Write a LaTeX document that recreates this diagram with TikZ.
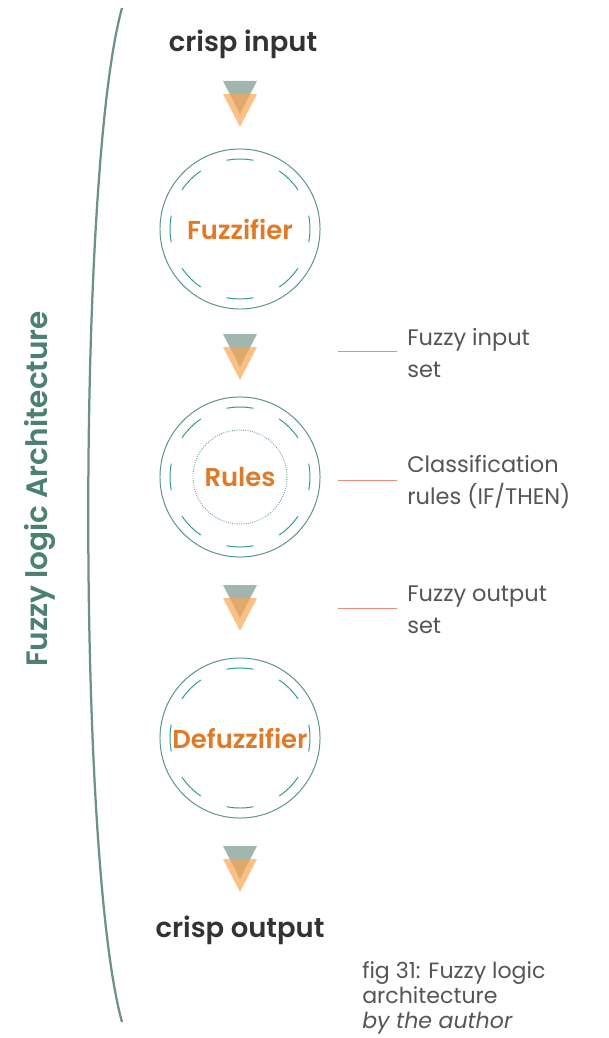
\documentclass[tikz,border=0pt]{standalone}
\usepackage{fontspec}
\setmainfont{Poppins}[BoldFont={Poppins SemiBold}]
\usetikzlibrary{positioning}

\definecolor{ringteal}{HTML}{5A948C}
\definecolor{dashteal}{HTML}{2E9A94}
\definecolor{bracketgreen}{HTML}{6B9188}
\definecolor{titlegreen}{HTML}{4C8070}
\definecolor{fuzzorange}{HTML}{E07A27}
\definecolor{leadred}{HTML}{EC8A7D}
\definecolor{notegray}{HTML}{555555}
\definecolor{trigray}{HTML}{A2B5AE}
\definecolor{triorange}{HTML}{FAA552}

\begin{document}
\begin{tikzpicture}[x=0.025cm,y=0.025cm]
\tikzstyle{stage}=[circle, draw=ringteal, line width=0.7pt, minimum size=4cm, inner sep=0pt, text=fuzzorange, font=\bfseries\fontsize{18.4}{20}\selectfont]
\tikzstyle{ringdash}=[draw=dashteal, line width=0.7pt]
\tikzstyle{core}=[circle, draw=ringteal, densely dotted, line width=0.6pt, minimum size=2.35cm, inner sep=0pt]
\tikzstyle{endtext}=[text=black!80, font=\bfseries\fontsize{19.5}{22}\selectfont]
\tikzstyle{note}=[anchor=west, inner sep=0pt, align=left, text=notegray, font=\fontsize{16}{22.5}\selectfont]
\tikzstyle{leader}=[draw=leadred, line width=0.7pt]
\tikzstyle{graytri}=[fill=trigray]
\tikzstyle{orangetri}=[fill=triorange, fill opacity=0.7]
\tikzstyle{bracket}=[draw=bracketgreen, line width=1.6pt]
\tikzstyle{sidetitle}=[rotate=90, text=titlegreen, font=\bfseries\fontsize{21}{24}\selectfont]
\tikzstyle{caption}=[anchor=north west, inner sep=0pt, align=left, text=notegray, font=\fontsize{15.7}{17.8}\selectfont]

\useasboundingbox (0,0) rectangle (608,-1038);

% bracket and side title
\draw[bracket] (122,-8) .. controls (77,-170) and (77,-860) .. (122,-1022);
\node (title) [sidetitle] at (40,-489) {Fuzzy logic Architecture};

% the stages
\node (cin) [endtext] at (243,-44) {crisp input};
\node (rcore) [core] at (240,-477) {};
\node (fuzz) [stage] at (240,-229) {Fuzzifier};
\node (rules) [stage] at (240,-477) {Rules};
\node (defuzz) [stage] at (240,-738) {Defuzzifier};
\node (cout) [endtext] at (240,-930) {crisp output};

% broken inner rings
\foreach \s in {fuzz,rules,defuzz}
  \foreach \a in {0,45,...,315}
    \draw[ringdash] (\s.center) ++(\a-11:70) arc[start angle=\a-11, end angle=\a+11, radius=1.75cm];

% flow triangles
\foreach \n/\y in {t1/81, t2/334, t3/585, t4/846} {
  \coordinate (\n) at (240,-\y);
  \fill[graytri] (\n) ++(-17,0) -- ++(34,0) -- ++(-17,-33) -- cycle;
  \fill[orangetri] (\n) ++(-17,-13) -- ++(34,0) -- ++(-17,-33) -- cycle;
}

% notes on the right
\node (fin) [note] at (407,-353) {Fuzzy input\\set};
\node (crule) [note] at (407,-482) {Classification\\rules (IF/THEN)};
\node (fout) [note] at (407,-610) {Fuzzy output\\set};
\draw[leader] ([xshift=-0.25cm,yshift=0.05cm]fin.west) -- ++(-59,0);
\draw[leader] ([xshift=-0.25cm,yshift=0.05cm]crule.west) -- ++(-59,0);
\draw[leader] ([xshift=-0.25cm,yshift=0.05cm]fout.west) -- ++(-59,0);

\node (cap) [caption] at (362,-961) {fig 31: Fuzzy logic\\architecture\\\textit{by the author}};

\end{tikzpicture}
\end{document}
